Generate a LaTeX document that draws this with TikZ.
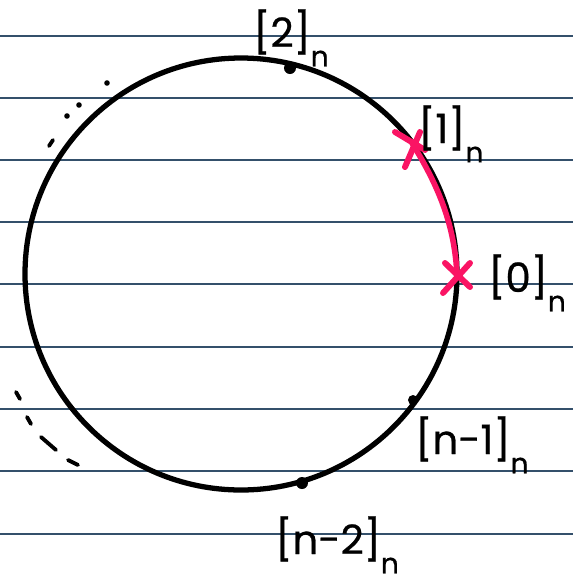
\documentclass[tikz,border=0pt]{standalone}
\usepackage{fontspec}
\setmainfont{Poppins}[FakeBold=0.6]
\definecolor{ruled}{RGB}{52,80,107}
\definecolor{hotpink}{RGB}{250,20,100}
\newcommand{\resclass}[1]{[#1]\raisebox{-11pt}{\fontsize{16}{18}\selectfont n}}
\begin{document}
\begin{tikzpicture}[x=0.02cm,y=-0.02cm,
  lab/.style={inner sep=0pt,anchor=base west,font=\fontsize{23}{27}\selectfont},
  mark x/.style={hotpink,line width=3.4pt,line cap=round}]
\useasboundingbox (0,0) rectangle (573,583);
\foreach \y in {36,98,160,222,284,347,409,471,534}
  \draw[ruled,line width=1pt] (0,\y) -- (573,\y);
\coordinate (c) at (241,274);
\draw[line width=3pt] (c) circle [radius=216];
\coordinate (p2) at (290,68);
\coordinate (p1) at (412,143);
\coordinate (p0) at (457,276);
\coordinate (pm1) at (413,400);
\coordinate (pm2) at (302,483);
\fill (p2) circle (6);
\fill (pm1) circle (5);
\fill (pm2) circle (6);
\draw[hotpink,line width=3.2pt,line cap=round] (p1) .. controls (438,185) and (455,225) .. (p0);
\draw[mark x] (395,132) -- (425,150) (420,132) -- (405,167);
\draw[mark x] (445,263) -- (470,287) (470,263) -- (443,293);
\node[lab] (l2) at (253,47) {\resclass{2}};
\node[lab] (l1) at (418,143) {\resclass{1}};
\node[lab] (l0) at (488,292) {\resclass{0}};
\node[lab] (lm1) at (415,454) {\resclass{n-1}};
\node[lab] (lm2) at (275,554) {\resclass{n-2}};
\foreach \p in {(107,83),(79,105),(67,116)}
  \fill \p circle (2.8);
\draw[line width=2.2pt,line cap=round] (49,146) -- (53,140);
\draw[line width=2.2pt,line cap=round] (16,392) -- (20,399);
\draw[line width=2.2pt,line cap=round] (27,417) -- (31,424);
\draw[line width=2.2pt,line cap=round] (41,437) -- (56,450);
\draw[line width=2.2pt,line cap=round] (68,460) -- (78,465);
\end{tikzpicture}
\end{document}
